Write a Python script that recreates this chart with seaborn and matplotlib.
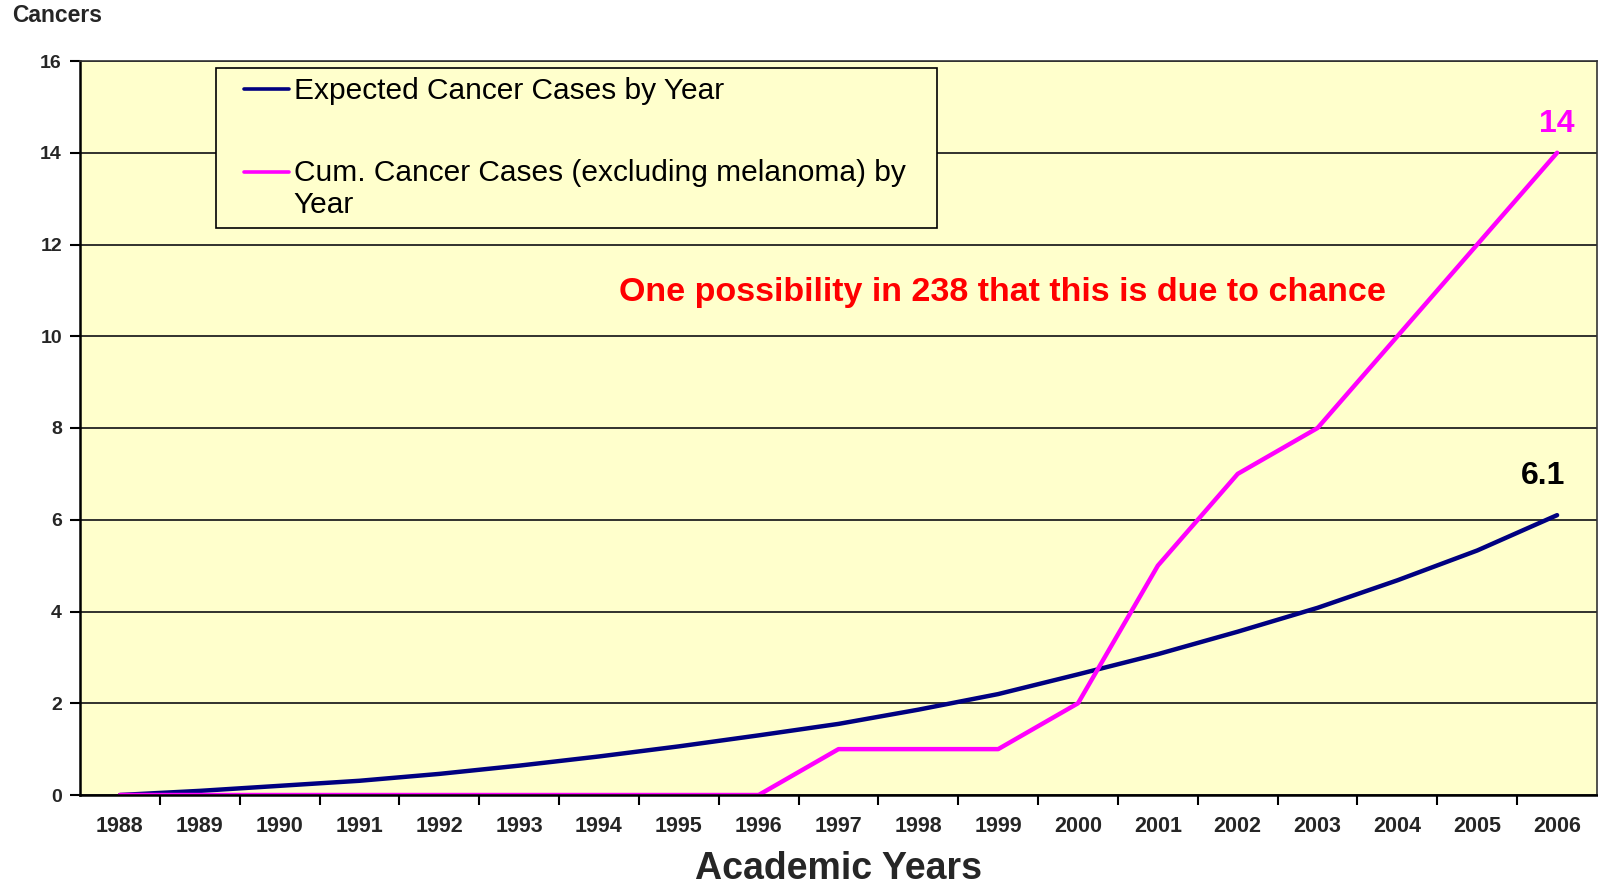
import matplotlib
matplotlib.use("Agg")
import matplotlib.pyplot as plt
import seaborn as sns
import pandas as pd
import numpy as np
from matplotlib.ticker import FixedLocator

years = [str(y) for y in range(1988, 2007)]
expected = [0.0, 0.09, 0.2, 0.31, 0.46, 0.64, 0.84, 1.06, 1.3, 1.55, 1.86, 2.2, 2.63, 3.07, 3.56, 4.08, 4.68, 5.33, 6.1]
cumulative = [0, 0, 0, 0, 0, 0, 0, 0, 0, 1, 1, 1, 2, 5, 7, 8, 10, 12, 14]
yticks = [0, 2, 4, 6, 8, 10, 12, 14, 16]

label_exp = "Expected Cancer Cases by Year"
label_cum = "Cum. Cancer Cases (excluding melanoma) by\nYear"

sns.set_style("white")
plt.rcParams['font.family'] = ['Liberation Sans', 'DejaVu Sans']

df = pd.DataFrame({"year": years * 2,
                   "value": expected + cumulative,
                   "series": [label_exp] * len(years) + [label_cum] * len(years)})
df["pos"] = list(range(len(years))) * 2

fig = plt.figure(figsize=(15.98, 8.86), dpi=100)
ax = fig.add_axes([80/1598, 1-795/886, (1597-80)/1598, (795-61)/886])
ax.set_facecolor("#FFFFCC")

sns.lineplot(data=df, x="pos", y="value", hue="series",
             palette={label_exp: "#000080", label_cum: "#FF00FF"},
             linewidth=3.2, ax=ax, legend=True)

ax.set_xlim(-0.5, len(years) - 0.5)
ax.set_ylim(0, 16)
ax.set_yticks(yticks)
ax.set_yticklabels([str(v) for v in yticks], fontsize=14, fontweight="bold")
ax.set_xticks(range(len(years)))
ax.set_xticklabels(years, fontsize=15.5, fontweight="bold")
ax.xaxis.set_minor_locator(FixedLocator(np.arange(0.5, len(years) - 0.5, 1)))
ax.tick_params(axis="x", which="major", length=0, pad=15)
ax.tick_params(axis="x", which="minor", length=7, width=1.5, direction="out", color="black", bottom=True)
ax.tick_params(axis="y", which="major", length=7, width=1.5, direction="out", color="black", pad=6, left=True)
ax.yaxis.grid(True, color="#222222", linewidth=1.3)
ax.set_axisbelow(True)
for s in ax.spines.values():
    s.set_color("#333333")
    s.set_linewidth(1.2)
ax.spines["left"].set_color("black")
ax.spines["left"].set_linewidth(1.8)
ax.spines["bottom"].set_color("black")
ax.spines["bottom"].set_linewidth(1.8)

ax.set_ylabel("")
ax.set_xlabel("Academic Years", fontsize=27, fontweight="bold", labelpad=10)

fs = 21.5
hl = 2.15
leg = ax.legend(loc="upper left", bbox_to_anchor=(0.0896, 0.99, 0.4755, 0.0), mode="expand",
                frameon=True, fancybox=False, fontsize=fs, handlelength=hl,
                handletextpad=0.15, labelspacing=1.8, borderpad=0.3, borderaxespad=0)
leg.get_frame().set_edgecolor("black")
leg.get_frame().set_linewidth(1.2)
leg.get_frame().set_facecolor("#FFFFCC")
leg.get_frame().set_alpha(1)
for t in leg.get_texts():
    t.set_color("black")
for i, h in enumerate(leg.legend_handles):
    h.set_linewidth(2.6)
    yd = np.asarray(h.get_ydata(), dtype=float)
    if i == 1:
        yd = yd + 12.5
    h.set_data(np.linspace(hl * fs - 32.5, hl * fs, len(yd)), yd)

ax.text(0.608, 0.685, "One possibility in 238 that this is due to chance",
        transform=ax.transAxes, ha="center", va="center", color="#FF0000",
        fontsize=24.5, fontweight="bold")

ax.annotate(str(cumulative[-1]), xy=(len(years) - 1, cumulative[-1]), xytext=(0, 21),
            textcoords="offset points", ha="center", va="center",
            color="#FF00FF", fontsize=23, fontweight="bold")
ax.annotate(f"{expected[-1]:.1f}", xy=(len(years) - 1, expected[-1]), xytext=(-10, 28),
            textcoords="offset points", ha="center", va="center",
            color="black", fontsize=23, fontweight="bold")

fig.text(12/1598, 1-16/886, "Cancers", ha="left", va="center", fontsize=16.5, fontweight="bold")

fig.savefig("out.png", dpi=100, facecolor="white")
